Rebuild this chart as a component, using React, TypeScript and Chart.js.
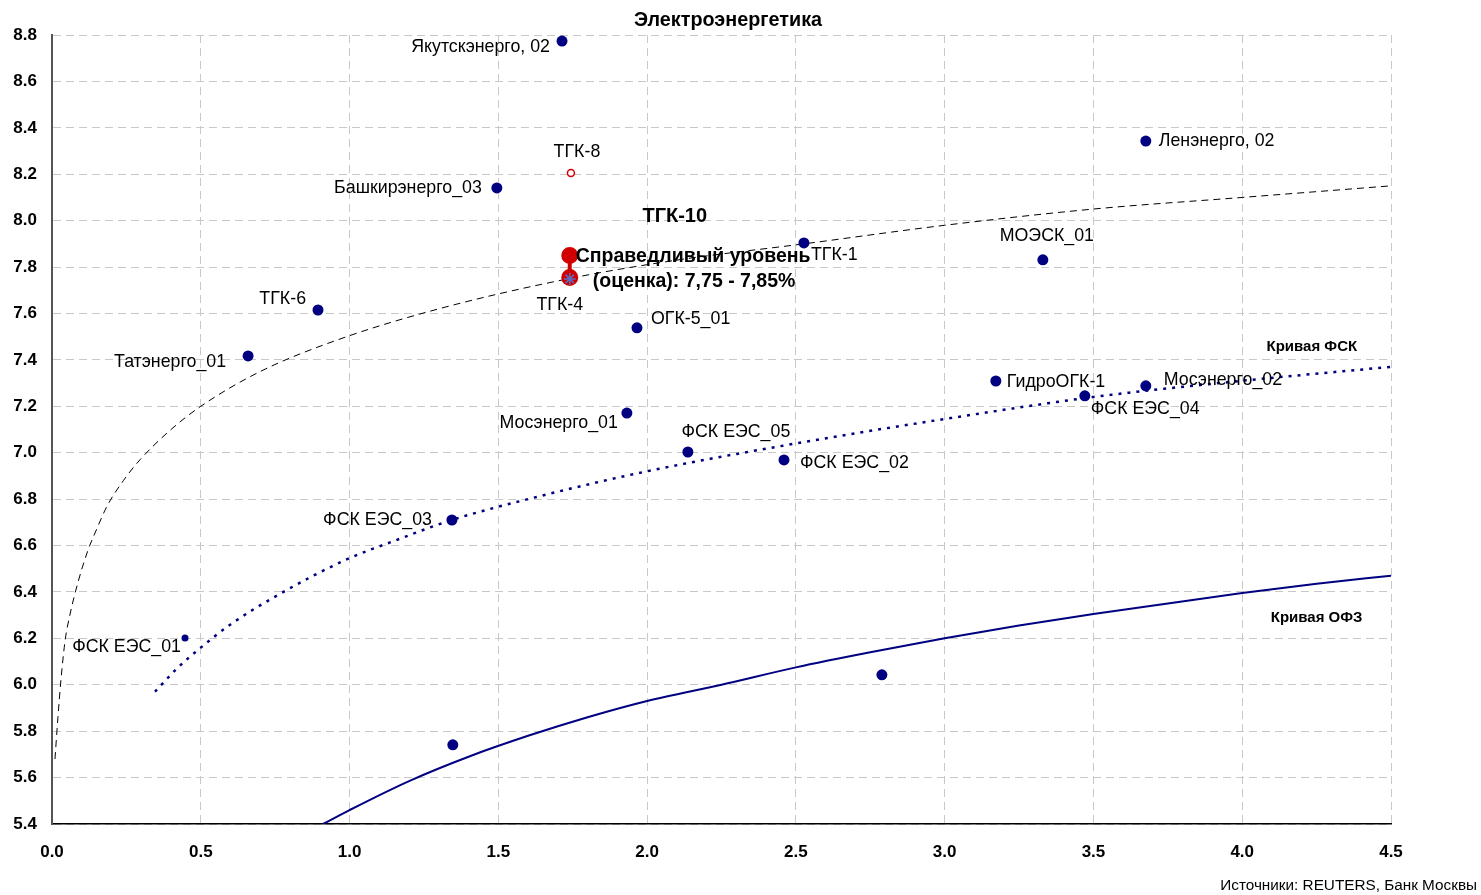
import React, { useEffect, useRef } from "react";
import { Chart, registerables } from "chart.js";

Chart.register(...registerables);

// ---------- data ----------
const titleText = "Электроэнергетика";
const sourceText = "Источники: REUTERS, Банк Москвы";

const xTickValues = [0, 0.5, 1.0, 1.5, 2.0, 2.5, 3.0, 3.5, 4.0, 4.5];
const yTickValues = [5.4, 5.6, 5.8, 6.0, 6.2, 6.4, 6.6, 6.8, 7.0, 7.2, 7.4, 7.6, 7.8, 8.0, 8.2, 8.4, 8.6, 8.8];

const bondNames = [
  "Якутскэнерго, 02",
  "Башкирэнерго_03",
  "Ленэнерго, 02",
  "ТГК-1",
  "МОЭСК_01",
  "ТГК-6",
  "Татэнерго_01",
  "ОГК-5_01",
  "ГидроОГК-1",
  "Мосэнерго_02",
  "ФСК ЕЭС_04",
  "Мосэнерго_01",
  "ФСК ЕЭС_05",
  "ФСК ЕЭС_02",
  "ФСК ЕЭС_03",
];
const bondX = [1.714, 1.495, 3.676, 2.527, 3.33, 0.894, 0.659, 1.966, 3.172, 3.676, 3.471, 1.932, 2.137, 2.46, 1.344];
const bondY = [8.774, 8.141, 8.343, 7.904, 7.831, 7.615, 7.417, 7.538, 7.309, 7.288, 7.245, 7.171, 7.003, 6.969, 6.71];

const smallNames = ["ФСК ЕЭС_01"];
const smallX = [0.447];
const smallY = [6.202];

const ofzX = [1.347, 2.789];
const ofzY = [5.741, 6.043];

const tgk8Names = ["ТГК-8"];
const tgk8X = [1.744];
const tgk8Y = [8.205];

const tgk4Names = ["ТГК-4"];
const tgk4X = [1.74];
const tgk4Y = [7.749];

const fairX = [1.74, 1.74];
const fairY = [7.85, 7.755];
const fairTitle = "ТГК-10";
const fairLine1 = "Справедливый уровень";
const fairLine2 = "(оценка): 7,75 - 7,85%";

// dashed trend curve
const trendX = [0.01, 0.02, 0.03, 0.044, 0.06, 0.087, 0.121, 0.15, 0.185, 0.24, 0.296, 0.4, 0.5, 0.7, 0.968, 1.3, 1.737, 2.1, 2.527, 3.0, 3.5, 4.0, 4.5];
const trendY = [5.68, 5.86, 6.02, 6.19, 6.3, 6.44, 6.58, 6.67, 6.77, 6.88, 6.97, 7.1, 7.2, 7.35, 7.49, 7.62, 7.75, 7.83, 7.9, 7.98, 8.05, 8.1, 8.15];

// Кривая ФСК
const fskX = [0.346, 0.42, 0.5, 0.6, 0.75, 0.99, 1.15, 1.344, 1.6, 2.0, 2.5, 2.974, 3.5, 4.0, 4.5];
const fskY = [5.97, 6.07, 6.16, 6.26, 6.38, 6.54, 6.62, 6.71, 6.8, 6.92, 7.04, 7.14, 7.24, 7.31, 7.37];

// Кривая ОФЗ
const ofzCurveX = [0.911, 1.0, 1.2, 1.4, 1.6, 1.8, 2.0, 2.25, 2.5, 2.75, 3.0, 3.25, 3.5, 3.75, 4.0, 4.25, 4.5];
const ofzCurveY = [5.4, 5.46, 5.585, 5.69, 5.78, 5.86, 5.93, 6.0, 6.075, 6.14, 6.2, 6.255, 6.305, 6.35, 6.395, 6.435, 6.47];

const curveLabels = ["Кривая ФСК", "Кривая ОФЗ"];
const curveLabelX = [4.234, 4.25];
const curveLabelY = [7.456, 6.288];

// ---------- label placement (pixels, style only) ----------
const labelOffsets: Record<string, [number, number, CanvasTextAlign]> = {
  "Якутскэнерго, 02": [-12, 6, "right"],
  "ТГК-8": [6, -21, "center"],
  "Башкирэнерго_03": [-15, 0, "right"],
  "Ленэнерго, 02": [13, 0, "left"],
  "ТГК-1": [7, 12, "left"],
  "МОЭСК_01": [4, -24, "center"],
  "ТГК-6": [-12, -11, "right"],
  "Татэнерго_01": [-22, 6, "right"],
  "ОГК-5_01": [14, -9, "left"],
  "ТГК-4": [-10, 26, "center"],
  "ГидроОГК-1": [11, 1, "left"],
  "Мосэнерго_02": [18, -6, "left"],
  "ФСК ЕЭС_04": [6, 13, "left"],
  "Мосэнерго_01": [-9, 10, "right"],
  "ФСК ЕЭС_05": [48, -20, "center"],
  "ФСК ЕЭС_02": [16, 3, "left"],
  "ФСК ЕЭС_03": [-20, 0, "right"],
  "ФСК ЕЭС_01": [-4, 9, "right"],
};

const FONT = "'Liberation Sans', Arial, sans-serif";
const NAVY = "#000080";
const RED = "#d00000";

const zip = (xs: number[], ys: number[]) => xs.map((x, i) => ({ x, y: ys[i] }));

const textPlugin = {
  id: "texts",
  afterDatasetsDraw(chart: any) {
    const ctx: CanvasRenderingContext2D = chart.ctx;
    const xs = chart.scales.x;
    const ys = chart.scales.y;
    ctx.save();
    ctx.textBaseline = "middle";
    ctx.fillStyle = "#000";
    // point labels
    ctx.font = `17.8px ${FONT}`;
    chart.data.datasets.forEach((ds: any, di: number) => {
      if (!ds.names) return;
      const meta = chart.getDatasetMeta(di);
      ds.names.forEach((name: string, i: number) => {
        const el = meta.data[i];
        if (!el) return;
        const off = labelOffsets[name] || [10, 0, "left"];
        ctx.textAlign = off[2];
        ctx.fillText(name, el.x + off[0], el.y + off[1]);
      });
    });
    // fair value annotation
    const fi = chart.data.datasets.findIndex((d: any) => d.fair);
    if (fi >= 0) {
      const top = chart.getDatasetMeta(fi).data[0];
      ctx.font = `bold 20px ${FONT}`;
      ctx.textAlign = "center";
      ctx.fillText(fairTitle, top.x + 105, top.y - 39);
      ctx.font = `bold 19.5px ${FONT}`;
      ctx.textAlign = "left";
      ctx.fillText(fairLine1, top.x + 6, top.y + 1);
      ctx.fillText(fairLine2, top.x + 23, top.y + 26);
    }
    // curve labels
    ctx.font = `bold 15px ${FONT}`;
    ctx.textAlign = "center";
    curveLabels.forEach((t, i) => {
      ctx.fillText(t, xs.getPixelForValue(curveLabelX[i]), ys.getPixelForValue(curveLabelY[i]));
    });
    // title
    ctx.font = `bold 19.8px ${FONT}`;
    ctx.textAlign = "center";
    ctx.fillText(titleText, 728, 21);
    // source
    ctx.font = `15.3px ${FONT}`;
    ctx.textAlign = "right";
    ctx.fillText(sourceText, 1477, 886);
    ctx.restore();
  },
};

export default function App() {
  const ref = useRef<HTMLCanvasElement>(null);
  useEffect(() => {
    if (!ref.current) return;
    const gridCommon = {
      color: "#c8c8c8",
      lineWidth: 1,
      drawTicks: false,
    };
    const curveCommon = {
      showLine: true,
      pointRadius: 0,
      cubicInterpolationMode: "monotone",
      order: 10,
    };
    const chart = new Chart(ref.current, {
      type: "scatter",
      data: {
        datasets: [
          {
            label: "ТГК-4",
            data: zip(tgk4X, tgk4Y),
            names: tgk4Names,
            pointStyle: "star",
            pointRadius: 6,
            borderColor: "#5a6cc0",
            backgroundColor: "#5a6cc0",
            borderWidth: 1.5,
            order: 0,
          } as any,
          {
            label: "fair",
            fair: true,
            data: zip(fairX, fairY),
            showLine: true,
            borderColor: RED,
            borderWidth: 4,
            pointRadius: 6.5,
            pointBackgroundColor: RED,
            pointBorderColor: RED,
            order: 1,
          } as any,
          {
            label: "ТГК-8",
            data: zip(tgk8X, tgk8Y),
            names: tgk8Names,
            pointRadius: 3.5,
            pointBackgroundColor: "#fff",
            pointBorderColor: RED,
            pointBorderWidth: 1.5,
            order: 2,
          } as any,
          {
            label: "bonds",
            data: zip(bondX, bondY),
            names: bondNames,
            pointRadius: 5.5,
            pointBackgroundColor: NAVY,
            pointBorderColor: NAVY,
            pointBorderWidth: 0,
            order: 3,
          } as any,
          {
            label: "small",
            data: zip(smallX, smallY),
            names: smallNames,
            pointRadius: 3.5,
            pointBackgroundColor: NAVY,
            pointBorderColor: NAVY,
            pointBorderWidth: 0,
            order: 3,
          } as any,
          {
            label: "ofz",
            data: zip(ofzX, ofzY),
            pointRadius: 5.5,
            pointBackgroundColor: NAVY,
            pointBorderColor: NAVY,
            pointBorderWidth: 0,
            order: 3,
          } as any,
          {
            label: "trend",
            data: zip(trendX, trendY),
            ...curveCommon,
            borderColor: "#000",
            borderWidth: 1,
            borderDash: [7, 5],
          } as any,
          {
            label: "fsk",
            data: zip(fskX, fskY),
            ...curveCommon,
            borderColor: NAVY,
            borderWidth: 2.5,
            borderDash: [3, 6],
          } as any,
          {
            label: "ofzCurve",
            data: zip(ofzCurveX, ofzCurveY),
            ...curveCommon,
            borderColor: NAVY,
            borderWidth: 2,
          } as any,
        ],
      },
      options: {
        responsive: false,
        animation: false,
        devicePixelRatio: 1,
        layout: { padding: { left: 0, top: 35, right: 90, bottom: 0 } },
        plugins: {
          legend: { display: false },
          tooltip: { enabled: false },
          title: { display: false },
        },
        scales: {
          x: {
            type: "linear",
            min: 0,
            max: 4.5,
            afterBuildTicks: (s: any) => {
              s.ticks = xTickValues.map((v) => ({ value: v }));
            },
            afterFit: (s: any) => {
              s.height = 71;
            },
            ticks: {
              callback: (v: any) => Number(v).toFixed(1),
              font: { family: FONT, size: 17, weight: "bold" },
              color: "#000",
              padding: 18,
              maxRotation: 0,
            },
            grid: gridCommon,
            border: { display: true, color: "#000", width: 1.5, dash: [8, 5] },
          },
          y: {
            type: "linear",
            min: 5.4,
            max: 8.8,
            afterBuildTicks: (s: any) => {
              s.ticks = yTickValues.map((v) => ({ value: v }));
            },
            afterFit: (s: any) => {
              s.width = 52;
            },
            ticks: {
              callback: (v: any) => Number(v).toFixed(1),
              font: { family: FONT, size: 17, weight: "bold" },
              color: "#000",
              padding: 15,
            },
            grid: gridCommon,
            border: { display: true, color: "#555", width: 2, dash: [8, 5] },
          },
        },
      },
      plugins: [textPlugin],
    } as any);
    return () => chart.destroy();
  }, []);
  return (
    <div style={{ position: "absolute", left: 0, top: 0, width: 1481, height: 895, background: "#fff" }}>
      <canvas ref={ref} width={1481} height={895} style={{ display: "block" }} />
    </div>
  );
}
